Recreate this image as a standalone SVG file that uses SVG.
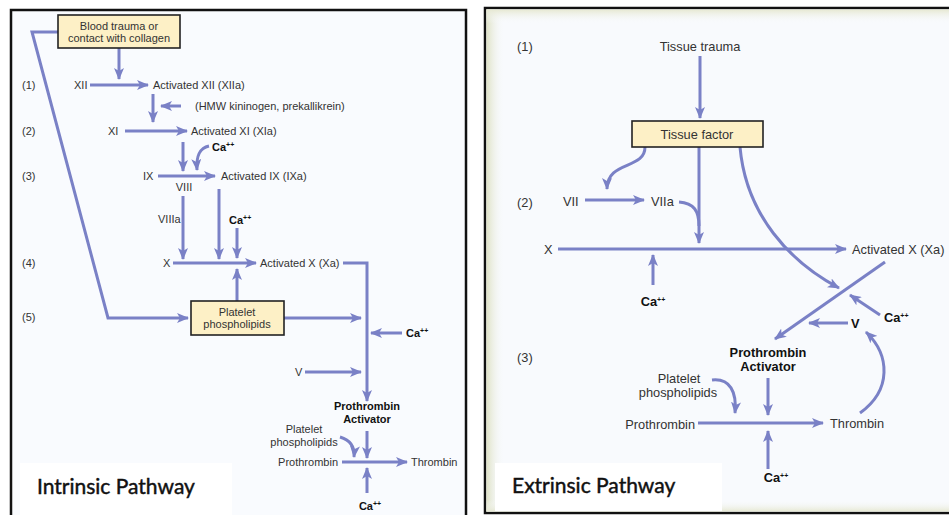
<svg xmlns="http://www.w3.org/2000/svg" width="949" height="515" viewBox="0 0 949 515">
<style>
.t{font-family:"Liberation Sans",Arial,sans-serif;font-size:11px;fill:#333}
.r{font-size:12.8px}
.b{font-weight:bold;fill:#111}
.m{text-anchor:middle}
.e{text-anchor:end}
.sup{font-size:7px}
.ln{fill:none;stroke:#7a81c6;stroke-width:3}
.ar{marker-end:url(#ah)}
.box{fill:#fdf0c6;stroke:#222;stroke-width:1.6}
.ttl{font-family:Lato,"Open Sans",sans-serif;font-size:21px;fill:#111;stroke:#111;stroke-width:0.45}
</style>
<defs>
<marker id="ah" viewBox="0 0 12 10" refX="11" refY="5" markerWidth="12" markerHeight="10" markerUnits="userSpaceOnUse" orient="auto">
<path d="M0,0 L12,5 L0,10 L3,5 z" fill="#7a81c6"/>
</marker>
<linearGradient id="gl" x1="0" x2="1" y1="0" y2="0">
<stop offset="0" stop-color="#dfe2c6"/><stop offset="1" stop-color="#f8fafd" stop-opacity="0"/>
</linearGradient>
<linearGradient id="gt" x1="0" x2="0" y1="0" y2="1">
<stop offset="0" stop-color="#e6e8d2"/><stop offset="1" stop-color="#f8fafd" stop-opacity="0"/>
</linearGradient>
<linearGradient id="gb" x1="0" x2="0" y1="1" y2="0">
<stop offset="0" stop-color="#e6e8d2"/><stop offset="1" stop-color="#f8fafd" stop-opacity="0"/>
</linearGradient>
</defs>
<rect width="949" height="515" fill="#ffffff"/>

<g id="panel-intrinsic">
<rect x="11" y="10" width="455" height="520" fill="#f9fbfe" stroke="#111" stroke-width="2.5"/>
<rect x="20" y="463" width="212" height="52" fill="#ffffff"/>
<text class="ttl" x="37" y="494">Intrinsic Pathway</text>
</g>
<g id="panel-extrinsic">
<rect x="485" y="8" width="480" height="505" fill="#f8fafd" stroke="#111" stroke-width="2.5"/>
<rect x="486.5" y="9.5" width="18" height="502" fill="url(#gl)"/>
<rect x="486.5" y="9.5" width="465" height="14" fill="url(#gt)"/>
<rect x="486.5" y="500" width="465" height="11.5" fill="url(#gb)"/>
<rect x="495" y="463" width="227" height="48" fill="#ffffff"/>
<text class="ttl" x="512" y="493">Extrinsic Pathway</text>
</g>

<g id="connectors">
<path class="ln ar" d="M58,32 L32,32 L108,318 L188,318"/>
<path class="ln ar" d="M119,48 L119,79"/>
<path class="ln ar" d="M90,85 L148,85"/>
<path class="ln ar" d="M153,94 L153,122"/>
<path class="ln ar" d="M181,106 L161,106"/>
<path class="ln ar" d="M125,131 L187,131"/>
<path class="ln ar" d="M183,142 L183,171"/>
<path class="ln ar" d="M209,146 C200,148 196,155 197,170"/>
<path class="ln ar" d="M158,176 L215,176"/>
<path class="ln ar" d="M183,196 L183,259"/>
<path class="ln ar" d="M219,189 L219,259"/>
<path class="ln ar" d="M237,228 L237,258"/>
<path class="ln ar" d="M173,263 L256,263"/>
<path class="ln ar" d="M237,301 L237,269"/>
<path class="ln ar" d="M343,263 L367,263 L367,401"/>
<path class="ln ar" d="M284,318 L361,318"/>
<path class="ln ar" d="M402,333 L371,333"/>
<path class="ln ar" d="M305,372 L361,372"/>
<path class="ln ar" d="M367,431 L367,458"/>
<path class="ln ar" d="M340,437 C350,440 355,446 354,457"/>
<path class="ln ar" d="M342,462 L407,462"/>
<path class="ln ar" d="M367,493 L367,468"/>

<path class="ln ar" d="M700,56 L700,118"/>
<path class="ln ar" d="M645,147 C645,170 607,160 607,189"/>
<path class="ln ar" d="M585,200 L644,200"/>
<path class="ln ar" d="M699,147 L699,243"/>
<path class="ln" d="M679,202 C694,203 699,211 699,226"/>
<path class="ln ar" d="M558,249 L846,249"/>
<path class="ln ar" d="M653,285 L653,255"/>
<path class="ln ar" d="M740,147 C746,215 790,262 839,288"/>
<path class="ln ar" d="M885,262 L775,339"/>
<path class="ln ar" d="M880,315 L850,295"/>
<path class="ln ar" d="M848,323 L809,323"/>
<path class="ln ar" d="M860,413 C892,390 890,355 866,332"/>
<path class="ln ar" d="M768,378 L768,415"/>
<path class="ln ar" d="M712,380 C730,378 737,392 735,413"/>
<path class="ln ar" d="M698,423 L823,423"/>
<path class="ln ar" d="M768,469 L768,431"/>
</g>

<g id="n-blood-trauma">
<rect class="box" x="58" y="15" width="122" height="33"/>
<text class="t m" x="119" y="29.5">Blood trauma or</text>
<text class="t m" x="119" y="42">contact with collagen</text>
</g>
<g id="n-steps-left">
<text class="t" x="22" y="89">(1)</text>
<text class="t" x="22" y="135">(2)</text>
<text class="t" x="22" y="180">(3)</text>
<text class="t" x="22" y="267">(4)</text>
<text class="t" x="22" y="321">(5)</text>
</g>
<g id="n-xii"><text class="t" x="74" y="89">XII</text></g>
<g id="n-xiia"><text class="t" x="153" y="89">Activated XII (XIIa)</text></g>
<g id="n-hmw"><text class="t" x="195" y="110">(HMW kininogen, prekallikrein)</text></g>
<g id="n-xi"><text class="t" x="108" y="135">XI</text></g>
<g id="n-xia"><text class="t" x="191" y="135">Activated XI (XIa)</text></g>
<g id="n-ca-l1"><text class="t b" x="212" y="151">Ca<tspan class="sup" dy="-4">++</tspan></text></g>
<g id="n-ix"><text class="t" x="143" y="180">IX</text></g>
<g id="n-ixa"><text class="t" x="221" y="180">Activated IX (IXa)</text></g>
<g id="n-viii"><text class="t m" x="184" y="191">VIII</text></g>
<g id="n-viiia"><text class="t" x="158" y="223">VIIIa</text></g>
<g id="n-ca-l2"><text class="t b" x="229" y="224">Ca<tspan class="sup" dy="-4">++</tspan></text></g>
<g id="n-x-l"><text class="t" x="163" y="267">X</text></g>
<g id="n-xa-l"><text class="t" x="260" y="267">Activated X (Xa)</text></g>
<g id="n-platelet-l">
<rect class="box" x="191" y="301" width="93" height="34"/>
<text class="t m" x="237" y="315.5">Platelet</text>
<text class="t m" x="237" y="328">phospholipids</text>
</g>
<g id="n-ca-l3"><text class="t b" x="406" y="337">Ca<tspan class="sup" dy="-4">++</tspan></text></g>
<g id="n-v-l"><text class="t" x="295" y="376">V</text></g>
<g id="n-pa-l">
<text class="t b m" x="367" y="410">Prothrombin</text>
<text class="t b m" x="367" y="423">Activator</text>
</g>
<g id="n-pp-l">
<text class="t m" x="304" y="433">Platelet</text>
<text class="t m" x="304" y="446">phospholipids</text>
</g>
<g id="n-prothrombin-l"><text class="t e" x="338" y="466">Prothrombin</text></g>
<g id="n-thrombin-l"><text class="t" x="411" y="466">Thrombin</text></g>
<g id="n-ca-l4"><text class="t b m" x="370" y="510">Ca<tspan class="sup" dy="-4">++</tspan></text></g>

<g id="n-steps-right">
<text class="t r" x="517" y="51">(1)</text>
<text class="t r" x="517" y="207">(2)</text>
<text class="t r" x="517" y="362">(3)</text>
</g>
<g id="n-tissue-trauma"><text class="t r m" x="700" y="51">Tissue trauma</text></g>
<g id="n-tissue-factor">
<rect class="box" x="632" y="121" width="131" height="26"/>
<text class="t r m" x="697" y="138.5">Tissue factor</text>
</g>
<g id="n-vii"><text class="t r" x="563" y="206">VII</text></g>
<g id="n-viia"><text class="t r" x="651" y="206">VIIa</text></g>
<g id="n-x-r"><text class="t r" x="544" y="254">X</text></g>
<g id="n-xa-r"><text class="t r" x="852" y="254">Activated X (Xa)</text></g>
<g id="n-ca-r1"><text class="t r b m" x="653" y="306">Ca<tspan class="sup" dy="-4">++</tspan></text></g>
<g id="n-ca-r2"><text class="t r b" x="884" y="322">Ca<tspan class="sup" dy="-4">++</tspan></text></g>
<g id="n-v-r"><text class="t r b" x="851" y="328">V</text></g>
<g id="n-pa-r">
<text class="t r b m" x="768" y="357">Prothrombin</text>
<text class="t r b m" x="768" y="371">Activator</text>
</g>
<g id="n-pp-r">
<text class="t r m" x="679" y="383">Platelet</text>
<text class="t r m" x="678" y="397">phospholipids</text>
</g>
<g id="n-prothrombin-r"><text class="t r e" x="695" y="429">Prothrombin</text></g>
<g id="n-thrombin-r"><text class="t r" x="830" y="428">Thrombin</text></g>
<g id="n-ca-r3"><text class="t r b m" x="776" y="482">Ca<tspan class="sup" dy="-4">++</tspan></text></g>
</svg>
